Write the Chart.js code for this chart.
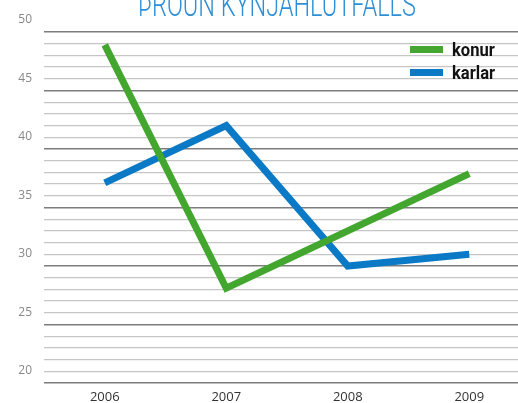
<!DOCTYPE html>
<html>
<head>
<meta charset="utf-8">
<script src="https://cdn.jsdelivr.net/npm/chart.js@4/dist/chart.umd.min.js"></script>
<style>
  html, body { margin: 0; padding: 0; background: #fff; overflow: hidden; }
  #wrap { position: relative; width: 518px; height: 403px; overflow: hidden; }
  #chartbox { position: absolute; left: 0; top: 0; width: 530px; height: 403px; }
  #title {
    position: absolute; left: 0; width: 554px; top: -16px; text-align: center;
    font-family: "Roboto", sans-serif; font-weight: 300; font-size: 34px;
    color: #2e8fd6; white-space: nowrap;
    transform: scaleX(0.69); transform-origin: 277px 0;
  }
  #legend { position: absolute; left: 410px; top: 38px; font-family: "Roboto", sans-serif; }
  .item { display: flex; align-items: center; height: 23px; }
  .swatch { width: 33px; height: 7px; margin-right: 9px; }
  .label { font-size: 18px; font-weight: bold; color: #111; display: inline-block; transform: scaleX(0.92); transform-origin: 0 50%; }
</style>
</head>
<body>
<div id="wrap">
  <div id="chartbox"><canvas id="mychart"></canvas></div>
  <div id="title">ÞRÓUN KYNJAHLUTFALLS</div>
  <div id="legend"></div>
</div>
<script>
const years = ['2006', '2007', '2008', '2009'];
const konur = [48.9, 28.1, 33.0, 37.9];
const karlar = [37.1, 42.0, 30.0, 31.0];
const seriesNames = ['konur', 'karlar'];
const seriesColors = ['#43a62f', '#0a79c6'];
const yMin = 20;
const yMax = 50;

const ctx = document.getElementById('mychart');
const myChart = new Chart(ctx, {
    type: 'line',
    data: {
        labels: years,
        datasets: [{
            label: seriesNames[0],
            data: konur,
            borderColor: seriesColors[0],
            borderWidth: 7
        },
        {
            label: seriesNames[1],
            data: karlar,
            borderColor: seriesColors[1],
            borderWidth: 7
        }]
    },
    options: {
        responsive: true,
        maintainAspectRatio: false,
        animation: false,
        layout: { padding: { top: 32, left: 0, right: 0, bottom: 0 } },
        elements: {
            line: { tension: 0, borderJoinStyle: 'miter', borderCapStyle: 'butt' },
            point: { radius: 0, hoverRadius: 0 }
        },
        scales: {
            x: {
                offset: true,
                grid: { display: false, drawTicks: false },
                border: { display: false },
                afterFit: axis => { axis.height = 20; },
                ticks: {
                    padding: 6,
                    color: '#333',
                    font: { family: 'Open Sans', size: 13 }
                }
            },
            y: {
                min: yMin,
                max: yMax,
                afterFit: axis => { axis.width = 44; },
                border: { display: false },
                grid: {
                    drawTicks: false,
                    color: c => c.tick && c.tick.value % 5 === 0 ? '#7d7d7d' : '#c6c6c6',
                    lineWidth: c => c.tick && c.tick.value % 5 === 0 ? 1.6 : 1.3
                },
                ticks: {
                    stepSize: 1,
                    autoSkip: false,
                    padding: 12,
                    labelOffset: -12,
                    color: '#888',
                    font: { family: 'Open Sans', size: 12 },
                    callback: v => v % 5 === 0 ? v : ''
                }
            }
        },
        plugins: {
            legend: { display: false },
            tooltip: { enabled: false }
        }
    }
});

// legend as html, built from the dataset names/colors
const legend = document.getElementById('legend');
seriesNames.forEach((name, i) => {
    const row = document.createElement('div');
    row.className = 'item';
    row.innerHTML = '<span class="swatch" style="background:' + seriesColors[i] + '"></span><span class="label">' + name + '</span>';
    legend.appendChild(row);
});
</script>
</body>
</html>
